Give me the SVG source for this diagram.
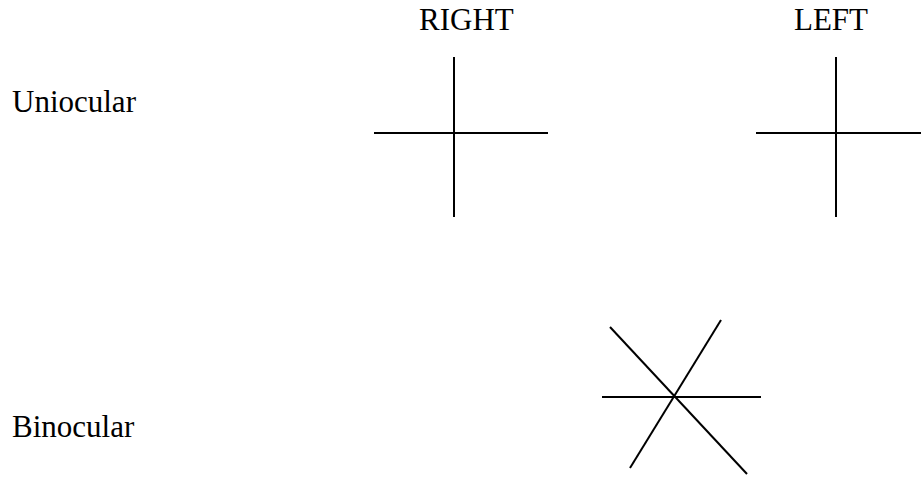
<svg xmlns="http://www.w3.org/2000/svg" width="921" height="481" viewBox="0 0 921 481">
<style>
text{font-family:"Liberation Serif","Times New Roman",serif;font-size:31px;fill:#000}
line{stroke:#000;stroke-width:2;stroke-linecap:butt}
</style>
<rect width="921" height="481" fill="#fff"/>
<g id="labels">
<text id="label-right" x="419" y="30">RIGHT</text>
<text id="label-left" x="794" y="30">LEFT</text>
<text id="label-uniocular" x="12" y="112">Uniocular</text>
<text id="label-binocular" x="12" y="437">Binocular</text>
</g>
<g id="cross-right">
<line x1="454" y1="57" x2="454" y2="217"/>
<line x1="374" y1="133" x2="548" y2="133"/>
</g>
<g id="cross-left">
<line x1="836" y1="57" x2="836" y2="217"/>
<line x1="756" y1="133" x2="921" y2="133"/>
</g>
<g id="star-binocular">
<line x1="602" y1="397" x2="761" y2="397"/>
<line x1="610" y1="327" x2="747" y2="474"/>
<line x1="721" y1="320" x2="630" y2="468"/>
</g>
</svg>
